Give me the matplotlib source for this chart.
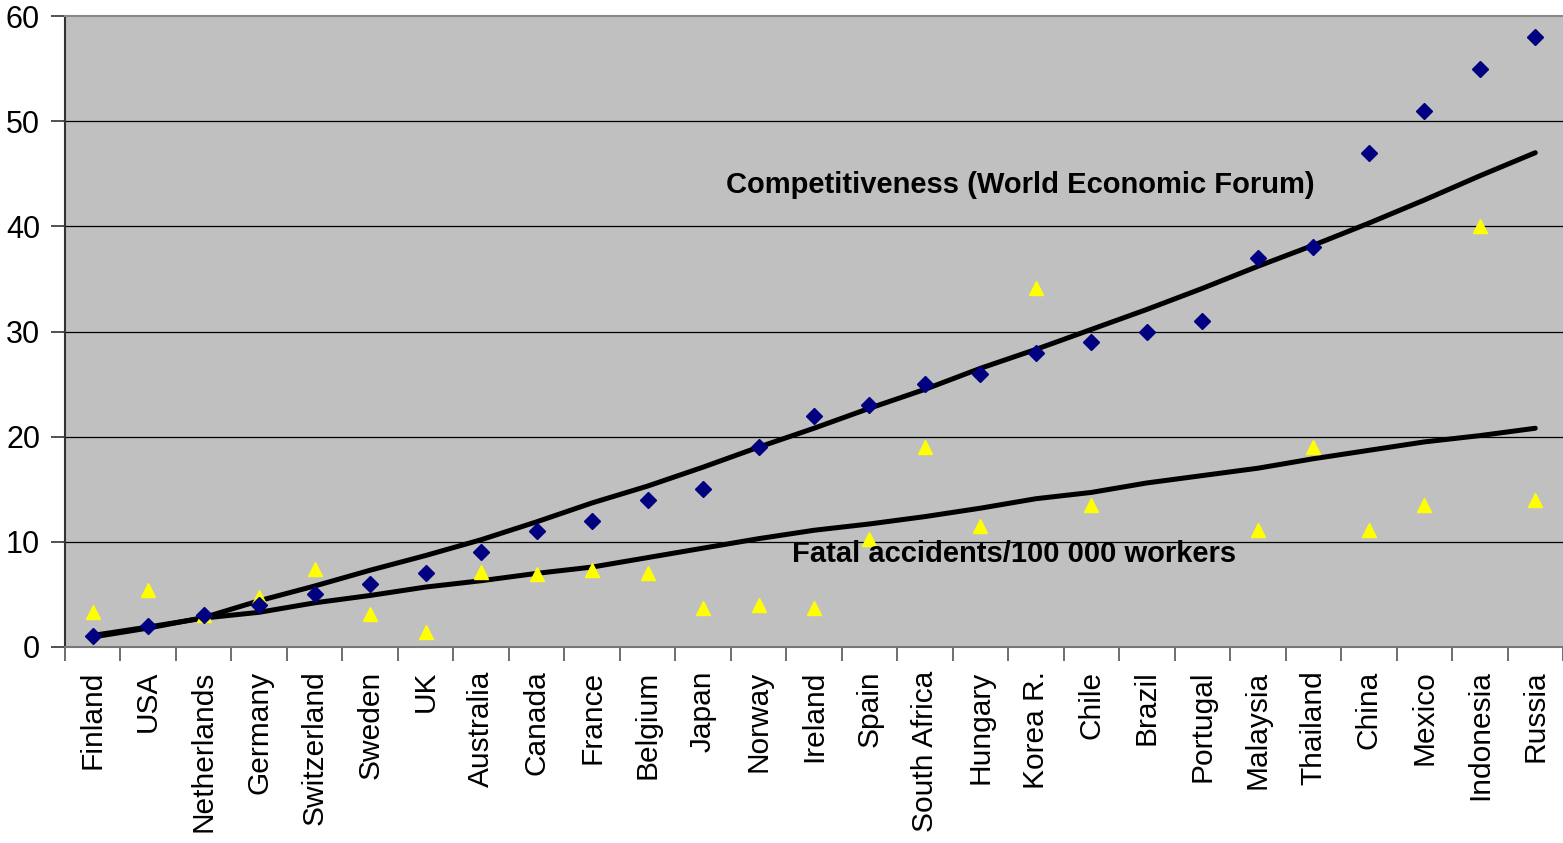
import numpy as np
import matplotlib
matplotlib.use("Agg")
import matplotlib.pyplot as plt

plt.rcParams['font.family'] = ['Liberation Sans', 'DejaVu Sans']

countries = ["Finland", "USA", "Netherlands", "Germany", "Switzerland", "Sweden", "UK",
             "Australia", "Canada", "France", "Belgium", "Japan", "Norway", "Ireland",
             "Spain", "South Africa", "Hungary", "Korea R.", "Chile", "Brazil", "Portugal",
             "Malaysia", "Thailand", "China", "Mexico", "Indonesia", "Russia"]

competitiveness = [1, 2, 3, 4, 5, 6, 7, 9, 11, 12, 14, 15, 19, 22, 23, 25, 26, 28, 29,
                   30, 31, 37, 38, 47, 51, 55, 58]

fatal_accidents = [3.3, 5.4, 3.0, 4.75, 7.4, 3.1, 1.4, 7.1, 6.9, 7.3, 7.0, 3.7, 4.0, 3.7,
                   10.3, 19.0, 11.5, 34.1, 13.5, np.nan, np.nan, 11.1, 19.0, 11.1, 13.5,
                   40.0, 14.0]

competitiveness_trend = [0.95, 1.8, 2.8, 4.4, 5.8, 7.3, 8.7, 10.2, 11.9, 13.7, 15.3, 17.1,
                         19.0, 20.8, 22.7, 24.5, 26.5, 28.3, 30.2, 32.1, 34.1, 36.2, 38.2,
                         40.3, 42.5, 44.8, 47.0]

fatal_trend = [1.1, 1.9, 2.75, 3.3, 4.2, 4.9, 5.7, 6.3, 7.0, 7.6, 8.5, 9.4, 10.3, 11.1,
               11.7, 12.4, 13.2, 14.1, 14.7, 15.6, 16.3, 17.0, 17.9, 18.7, 19.5, 20.1, 20.8]

yticks = [0, 10, 20, 30, 40, 50, 60]

W, H = 1563, 843
fig = plt.figure(figsize=(W / 100, H / 100), dpi=100)
ax = fig.add_axes([65 / W, (H - 647) / H, (W - 65) / W, (647 - 16) / H])
ax.set_facecolor('#C0C0C0')

x = np.arange(len(countries))

for yv in yticks[1:-1]:
    ax.axhline(yv, color='black', lw=0.9, zorder=1)

ax.plot(x, competitiveness_trend, color='black', lw=3.6, zorder=3, solid_capstyle='round',
        solid_joinstyle='round')
ax.plot(x, fatal_trend, color='black', lw=3.6, zorder=3, solid_capstyle='round',
        solid_joinstyle='round')

ax.plot(x, fatal_accidents, linestyle='none', marker='^', ms=10.5, color='#FFFF00',
        markeredgecolor='#FFFF00', zorder=4)
ax.plot(x, competitiveness, linestyle='none', marker='D', ms=8, color='#000080',
        markeredgecolor='#000080', zorder=5)

ax.text(11.405, 43.13, "Competitiveness (World Economic Forum)", fontsize=21,
        fontweight='bold', ha='left', va='baseline', zorder=6)
ax.text(12.607, 8.08, "Fatal accidents/100 000 workers", fontsize=21,
        fontweight='bold', ha='left', va='baseline', zorder=6)

ax.set_xlim(-0.5, len(countries) - 0.5)
ax.set_ylim(0, 60)
ax.set_yticks(yticks)
ax.set_yticklabels([str(v) for v in yticks], fontsize=22)
ax.tick_params(axis='y', length=10, width=1.2, color='#333333', pad=8)

ax.set_xticks(x)
ax.set_xticklabels(countries, rotation=90, fontsize=21.5, ha='center', va='top')
ax.tick_params(axis='x', which='major', length=0, pad=17)
ax.set_xticks(np.arange(-0.5, len(countries), 1), minor=True)
ax.tick_params(axis='x', which='minor', length=10, width=1.2, color='#555555')

ax.spines['left'].set_color('#333333')
ax.spines['left'].set_linewidth(1.5)
ax.spines['bottom'].set_color('#777777')
ax.spines['bottom'].set_linewidth(1.5)
ax.spines['top'].set_color('#888888')
ax.spines['top'].set_linewidth(1.5)
ax.spines['right'].set_visible(False)

fig.savefig("out.png", dpi=100, facecolor='white')
